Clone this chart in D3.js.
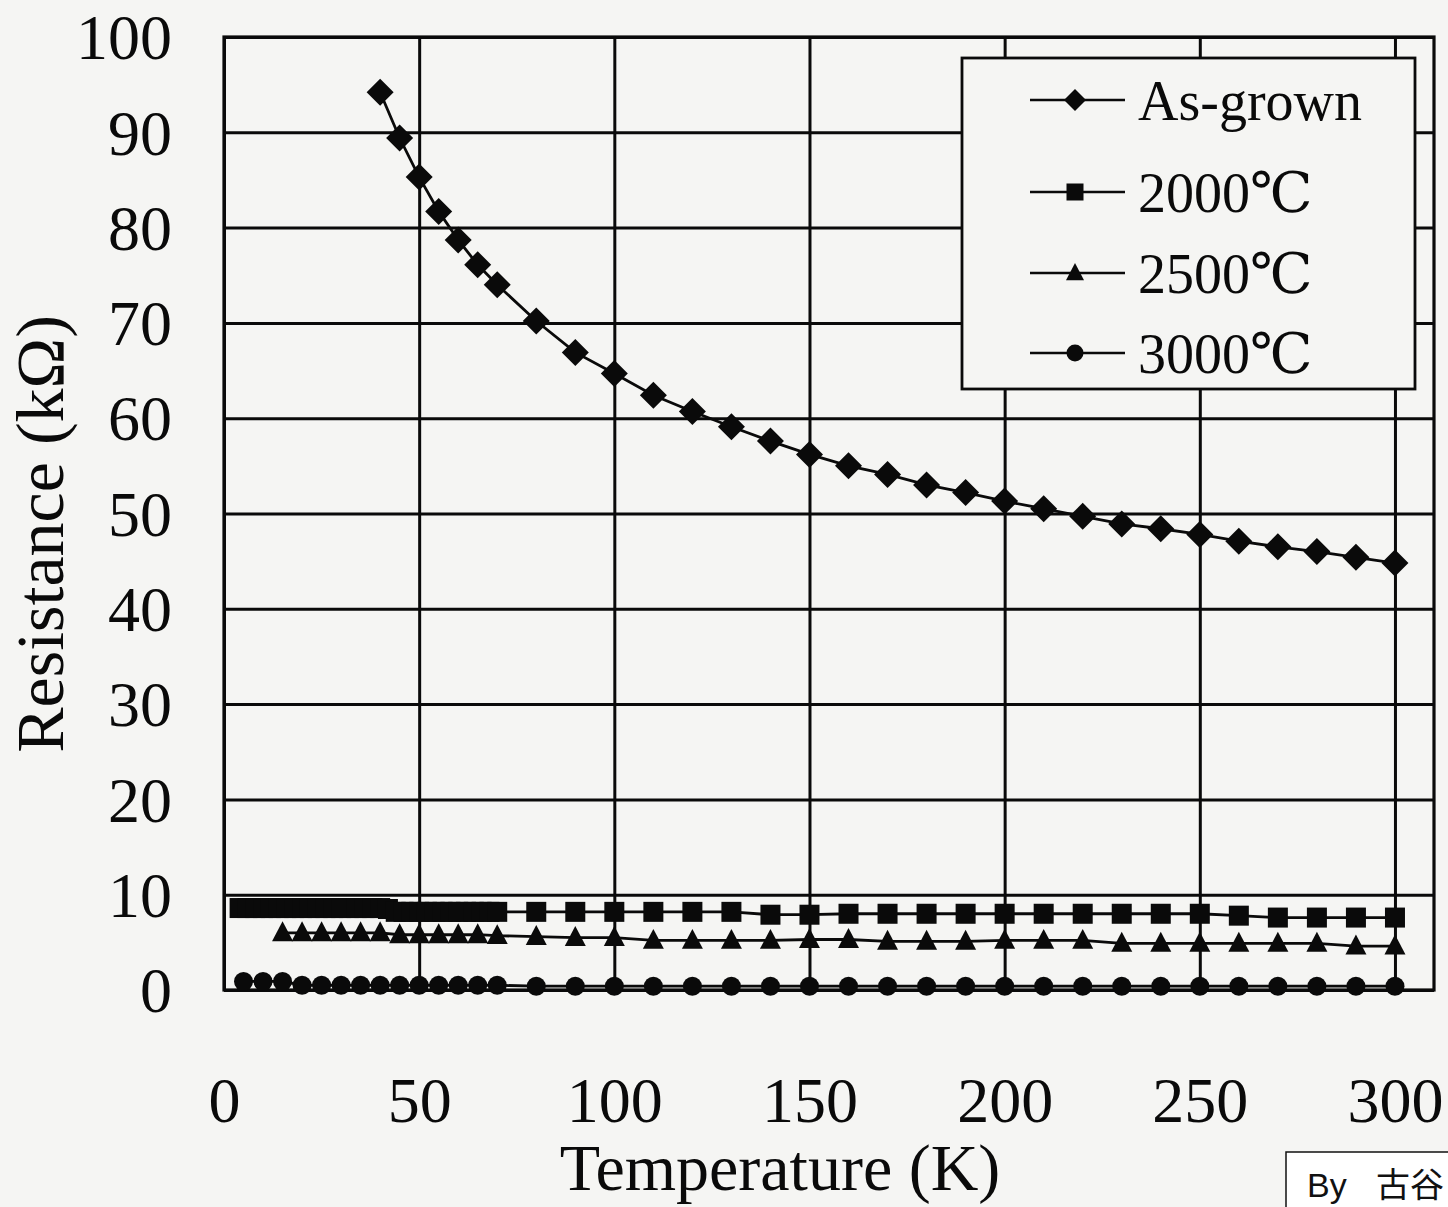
<!DOCTYPE html>
<html>
<head>
<meta charset="utf-8">
<script src="https://cdn.jsdelivr.net/npm/d3@7"></script>
<style>
  html, body { margin: 0; padding: 0; background: #f5f5f3; overflow: hidden; }
  svg { display: block; }
</style>
</head>
<body>
<svg id="chart" width="1448" height="1207"></svg>
<script>
// temperature (K) and resistance (kOhm)
const asGrownT = [40, 45, 50, 55, 60, 65, 70, 80, 90, 100, 110, 120, 130, 140, 150,
  160, 170, 180, 190, 200, 210, 220, 230, 240, 250, 260, 270, 280, 290, 300];
const asGrownR = [94.2, 89.4, 85.3, 81.7, 78.7, 76.1, 74.0, 70.2, 66.9, 64.7, 62.4, 60.7, 59.1, 57.6, 56.2,
  55.0, 54.1, 53.0, 52.2, 51.3, 50.5, 49.7, 48.9, 48.4, 47.8, 47.1, 46.5, 46.0, 45.4, 44.8];

const t2000T = [4, 6, 8, 10, 12, 14, 16, 18, 20, 22, 24, 26, 28, 30, 32, 34, 36, 38, 40, 42,
  44, 46, 48, 50, 52, 54, 56, 58, 60, 62, 64, 66, 68, 70,
  80, 90, 100, 110, 120, 130, 140, 150, 160, 170, 180, 190, 200, 210, 220, 230, 240, 250, 260, 270, 280, 290, 300];
const t2000R = [8.6, 8.6, 8.6, 8.6, 8.6, 8.6, 8.6, 8.6, 8.6, 8.6, 8.6, 8.6, 8.6, 8.6, 8.6, 8.6, 8.6, 8.6, 8.6, 8.5,
  8.2, 8.2, 8.2, 8.2, 8.2, 8.2, 8.2, 8.2, 8.2, 8.2, 8.2, 8.2, 8.2, 8.2,
  8.2, 8.2, 8.2, 8.2, 8.2, 8.2, 7.9, 7.9, 8.0, 8.0, 8.0, 8.0, 8.0, 8.0, 8.0, 8.0, 8.0, 8.0, 7.8, 7.6, 7.6, 7.6, 7.6];

const t2500T = [15, 20, 25, 30, 35, 40, 45, 50, 55, 60, 65, 70,
  80, 90, 100, 110, 120, 130, 140, 150, 160, 170, 180, 190, 200, 210, 220, 230, 240, 250, 260, 270, 280, 290, 300];
const t2500R = [6.0, 6.0, 6.0, 6.0, 6.0, 6.0, 5.8, 5.8, 5.8, 5.8, 5.8, 5.7,
  5.6, 5.5, 5.5, 5.2, 5.2, 5.2, 5.2, 5.3, 5.3, 5.1, 5.1, 5.1, 5.2, 5.2, 5.2, 4.9, 4.9, 4.9, 4.9, 4.9, 4.9, 4.6, 4.6];

const t3000T = [5, 10, 15, 20, 25, 30, 35, 40, 45, 50, 55, 60, 65, 70,
  80, 90, 100, 110, 120, 130, 140, 150, 160, 170, 180, 190, 200, 210, 220, 230, 240, 250, 260, 270, 280, 290, 300];
const t3000R = [0.9, 0.9, 0.9, 0.5, 0.5, 0.5, 0.5, 0.5, 0.5, 0.5, 0.5, 0.5, 0.5, 0.5,
  0.4, 0.4, 0.4, 0.4, 0.4, 0.4, 0.4, 0.4, 0.4, 0.4, 0.4, 0.4, 0.4, 0.4, 0.4, 0.4, 0.4, 0.4, 0.4, 0.4, 0.4, 0.4, 0.4];

const seriesNames = ["As-grown", "2000\u2103", "2500\u2103", "3000\u2103"];
const xTicks = [0, 50, 100, 150, 200, 250, 300];
const yTicks = [0, 10, 20, 30, 40, 50, 60, 70, 80, 90, 100];

const serif = "'Liberation Serif', 'Times New Roman', 'DejaVu Serif', 'Noto Sans CJK SC', serif";
const ink = "#0a0a0a";

const svg = d3.select("#chart");

const x = d3.scaleLinear().domain([0, 310]).range([224, 1434]);
const y = d3.scaleLinear().domain([0, 100]).range([990, 37]);

// grid + tick labels through the axes
const xAxis = svg.append("g")
  .attr("transform", `translate(0,${y(0)})`)
  .call(d3.axisBottom(x).tickValues(xTicks).tickSizeInner(-(y(0) - y(100))).tickSizeOuter(0).tickPadding(0));
xAxis.select(".domain").remove();
xAxis.selectAll(".tick line").attr("stroke", ink).attr("stroke-width", 3);
xAxis.selectAll(".tick text")
  .attr("y", 132).attr("dy", null)
  .style("font-family", serif).style("font-size", "64px").attr("fill", ink);

const yAxis = svg.append("g")
  .attr("transform", `translate(${x(0)},0)`)
  .call(d3.axisLeft(y).tickValues(yTicks).tickSizeInner(-(x(310) - x(0))).tickSizeOuter(0).tickPadding(52));
yAxis.select(".domain").remove();
yAxis.selectAll(".tick line").attr("stroke", ink).attr("stroke-width", 3);
yAxis.selectAll(".tick text")
  .attr("dy", "0.34em")
  .style("font-family", serif).style("font-size", "64px").attr("fill", ink);

// plot frame
svg.append("rect")
  .attr("x", x(0)).attr("y", y(100))
  .attr("width", x(310) - x(0)).attr("height", y(0) - y(100))
  .attr("fill", "none").attr("stroke", ink).attr("stroke-width", 3.2);

const series = [
  { T: asGrownT, R: asGrownR, shape: "diamond" },
  { T: t2000T, R: t2000R, shape: "square" },
  { T: t2500T, R: t2500R, shape: "triangle" },
  { T: t3000T, R: t3000R, shape: "circle" }
];

function marker(sel, shape, s) {
  if (shape === "diamond") {
    sel.append("path").attr("d", `M0,${-s}L${s},0L0,${s}L${-s},0Z`);
  } else if (shape === "square") {
    sel.append("rect").attr("x", -s).attr("y", -s).attr("width", 2 * s).attr("height", 2 * s);
  } else if (shape === "triangle") {
    sel.append("path").attr("d", `M0,${-s * 1.1}L${s},${s * 0.8}L${-s},${s * 0.8}Z`);
  } else {
    sel.append("circle").attr("r", s);
  }
  sel.attr("fill", ink);
}

const line = d3.line().x(d => x(d[0])).y(d => y(d[1]));
const sizes = { diamond: 13.5, square: 10, triangle: 10.5, circle: 9.5 };

series.forEach(s => {
  const pts = s.T.map((t, i) => [t, s.R[i]]);
  svg.append("path")
    .datum(pts)
    .attr("d", line)
    .attr("fill", "none")
    .attr("stroke", ink)
    .attr("stroke-width", 2.8);
  svg.append("g").selectAll("g")
    .data(pts)
    .join("g")
    .attr("transform", d => `translate(${x(d[0])},${y(d[1])})`)
    .each(function() { marker(d3.select(this), s.shape, sizes[s.shape]); });
});

// legend
const legend = svg.append("g");
legend.append("rect")
  .attr("x", 962).attr("y", 58).attr("width", 453).attr("height", 331)
  .attr("fill", "#f5f5f3").attr("stroke", ink).attr("stroke-width", 2.8);
const rowY = [100, 192, 273, 353];
const legendSizes = { diamond: 11, square: 8.5, triangle: 9, circle: 8.5 };
series.forEach((s, i) => {
  const g = legend.append("g").attr("transform", `translate(0,${rowY[i]})`);
  g.append("line").attr("x1", 1030).attr("x2", 1125).attr("y1", 0).attr("y2", 0)
    .attr("stroke", ink).attr("stroke-width", 2.6);
  const m = g.append("g").attr("transform", "translate(1075,0)");
  marker(m, s.shape, legendSizes[s.shape]);
  g.append("text")
    .attr("x", 1138).attr("y", 20)
    .style("font-family", serif).style("font-size", "56px").attr("fill", ink)
    .text(seriesNames[i]);
});

// axis titles
svg.append("text")
  .attr("x", 780).attr("y", 1190)
  .attr("text-anchor", "middle")
  .style("font-family", serif).style("font-size", "66px").attr("fill", ink)
  .text("Temperature (K)");

svg.append("text")
  .attr("transform", "translate(63,534) rotate(-90)")
  .attr("text-anchor", "middle")
  .style("font-family", serif).style("font-size", "68px").attr("fill", ink)
  .text("Resistance (k\u03A9)");

// credit box in the corner
svg.append("rect")
  .attr("x", 1286).attr("y", 1152).attr("width", 200).attr("height", 80)
  .attr("fill", "#ffffff").attr("stroke", "#111").attr("stroke-width", 1.5);
const credit = svg.append("text")
  .attr("y", 1197)
  .style("font-family", "'Liberation Sans', 'Noto Sans CJK SC', sans-serif")
  .style("font-size", "34px").attr("fill", "#111");
credit.append("tspan").attr("x", 1307).text("By");
credit.append("tspan").attr("x", 1376).text("古谷");
</script>
</body>
</html>
